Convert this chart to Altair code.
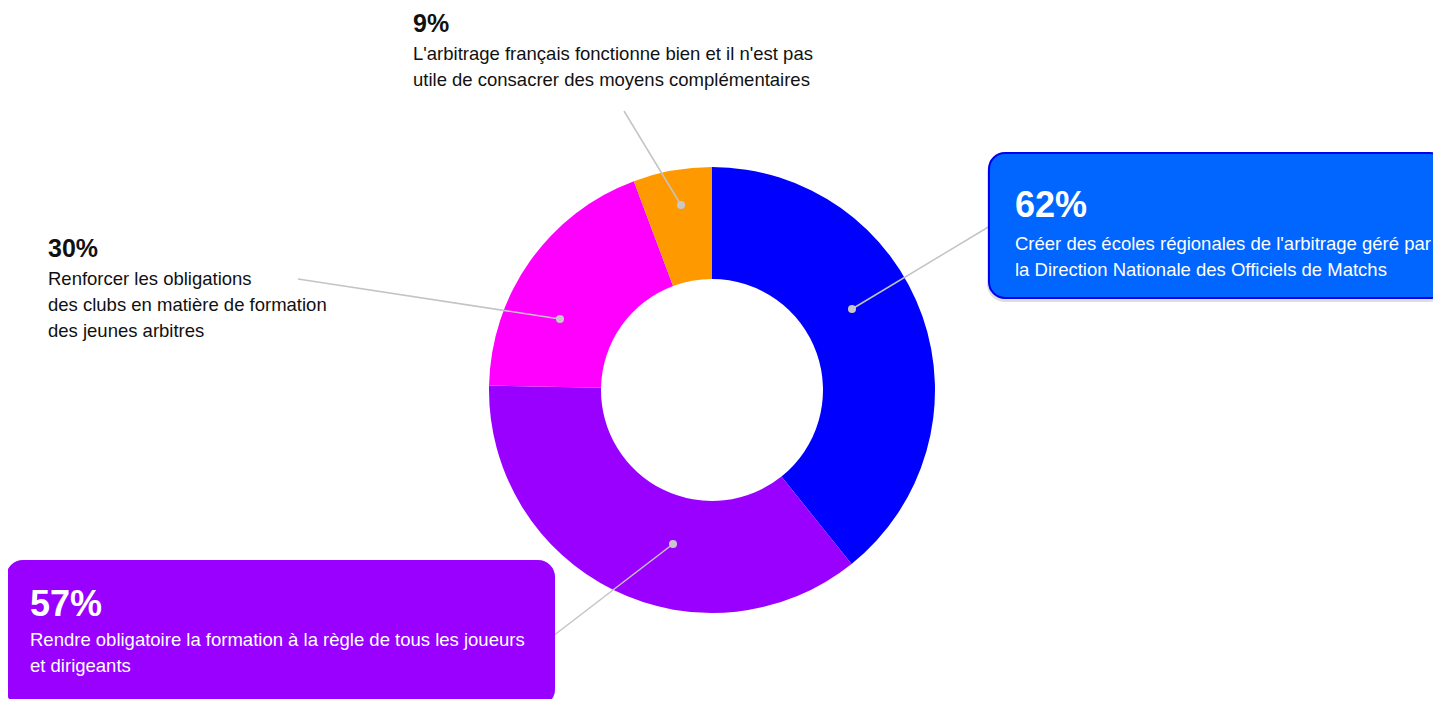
import altair as alt
import pandas as pd

# ---------------- data ----------------
categories = [
    "Créer des écoles régionales",
    "Rendre obligatoire la formation",
    "Renforcer les obligations",
    "L'arbitrage fonctionne bien",
]
values = [62, 57, 30, 9]
pct_labels = ["62%", "57%", "30%", "9%"]
descriptions = [
    ["Créer des écoles régionales de l'arbitrage géré par",
     "la Direction Nationale des Officiels de Matchs"],
    ["Rendre obligatoire la formation à la règle de tous les joueurs",
     "et dirigeants"],
    ["Renforcer les obligations",
     "des clubs en matière de formation",
     "des jeunes arbitres"],
    ["L'arbitrage français fonctionne bien et il n'est pas",
     "utile de consacrer des moyens complémentaires"],
]
slice_colors = ["#0000FF", "#9900FF", "#FF00FF", "#FF9900"]

# ---------------- layout (page pixels) ----------------
W, H = 1425, 691
CX, CY = 712, 390
R_IN, R_OUT = 111, 223
label_x = [1015, 30, 48, 413]
pct_baseline = [217, 616, 257, 32]
pct_size = [36, 36, 25, 25]
first_line = [250, 646, 285, 60]
line_gap = 26
text_color = ["#FFFFFF", "#FFFFFF", "#111111", "#111111"]
dots = [(852, 309), (673, 544), (560, 319), (681, 205)]
leader_ends = [(1000, 220), (540, 646), (298, 279), (624, 111)]
boxes = [
    dict(x=989, y=153, x2=1446, y2=298, fill="#0066FF", stroke="#0000EE"),
    dict(x=7, y=561, x2=554, y2=705, fill="#9900FF", stroke="#9900FF"),
]

FONT = "Liberation Sans"

xs = alt.Scale(domain=[8, 8 + W], nice=False, zero=False)
ys = alt.Scale(domain=[8, 8 + H], nice=False, zero=False, reverse=True)

# ---------------- donut ----------------
pie_df = pd.DataFrame({"cat": categories, "value": values, "idx": range(len(values))})
donut = alt.Chart(pie_df).mark_arc(innerRadius=R_IN, outerRadius=R_OUT).encode(
    theta=alt.Theta("value:Q", stack=True),
    order=alt.Order("idx:Q"),
    color=alt.Color("cat:N", scale=alt.Scale(domain=categories, range=slice_colors), legend=None),
    x=alt.value(CX - 8),
    y=alt.value(CY - 8),
)

# ---------------- leader lines & dots ----------------
lines_df = pd.DataFrame({
    "x": [d[0] for d in dots], "y": [d[1] for d in dots],
    "x2": [e[0] for e in leader_ends], "y2": [e[1] for e in leader_ends],
})
leaders = alt.Chart(lines_df).mark_rule(color="#C4C4C4", strokeWidth=1.5).encode(
    x=alt.X("x:Q", scale=xs, axis=None), y=alt.Y("y:Q", scale=ys, axis=None),
    x2="x2:Q", y2="y2:Q",
)
dot_layer = alt.Chart(lines_df).mark_circle(size=64, color="#C8C8C8", opacity=1).encode(
    x=alt.X("x:Q", scale=xs, axis=None), y=alt.Y("y:Q", scale=ys, axis=None),
)

# ---------------- boxes ----------------
box_df = pd.DataFrame(boxes)
shadow_df = box_df.copy()
shadow_df["x"] = shadow_df["x"] - 2
shadow_df["x2"] = shadow_df["x2"] + 1
shadow_df["y"] = shadow_df["y"] + 2
shadow_df["y2"] = shadow_df["y2"] + 4
shadow = alt.Chart(shadow_df).mark_rect(cornerRadius=18, color="#000000", opacity=0.13).encode(
    x=alt.X("x:Q", scale=xs, axis=None), y=alt.Y("y:Q", scale=ys, axis=None),
    x2="x2:Q", y2="y2:Q",
)
box_layer = alt.Chart(box_df).mark_rect(cornerRadius=16, strokeWidth=2).encode(
    x=alt.X("x:Q", scale=xs, axis=None), y=alt.Y("y:Q", scale=ys, axis=None),
    x2="x2:Q", y2="y2:Q",
    fill=alt.Fill("fill:N", scale=None),
    stroke=alt.Stroke("stroke:N", scale=None),
)

# ---------------- texts ----------------
pct_rows, desc_rows = [], []
for i in range(len(categories)):
    pct_rows.append(dict(x=label_x[i], y=pct_baseline[i], t=pct_labels[i],
                         fs=pct_size[i], c=text_color[i]))
    for j, line in enumerate(descriptions[i]):
        desc_rows.append(dict(x=label_x[i], y=first_line[i] + j * line_gap, t=line,
                              fs=18.5, c=text_color[i]))

pct_text = alt.Chart(pd.DataFrame(pct_rows)).mark_text(
    align="left", baseline="alphabetic", font=FONT, fontWeight="bold"
).encode(
    x=alt.X("x:Q", scale=xs, axis=None), y=alt.Y("y:Q", scale=ys, axis=None),
    text="t:N", size=alt.Size("fs:Q", scale=None), color=alt.Color("c:N", scale=None),
)
desc_text = alt.Chart(pd.DataFrame(desc_rows)).mark_text(
    align="left", baseline="alphabetic", font=FONT
).encode(
    x=alt.X("x:Q", scale=xs, axis=None), y=alt.Y("y:Q", scale=ys, axis=None),
    text="t:N", size=alt.Size("fs:Q", scale=None), color=alt.Color("c:N", scale=None),
)

chart = alt.layer(
    donut, leaders, dot_layer, shadow, box_layer, pct_text, desc_text
).resolve_scale(color="independent").properties(
    width=W, height=H, padding=0, autosize=alt.AutoSizeParams(type="none"),
    background="#FFFFFF",
).configure_view(stroke=None)

chart.save("out.html", embed_options={"renderer": "svg", "actions": False})
